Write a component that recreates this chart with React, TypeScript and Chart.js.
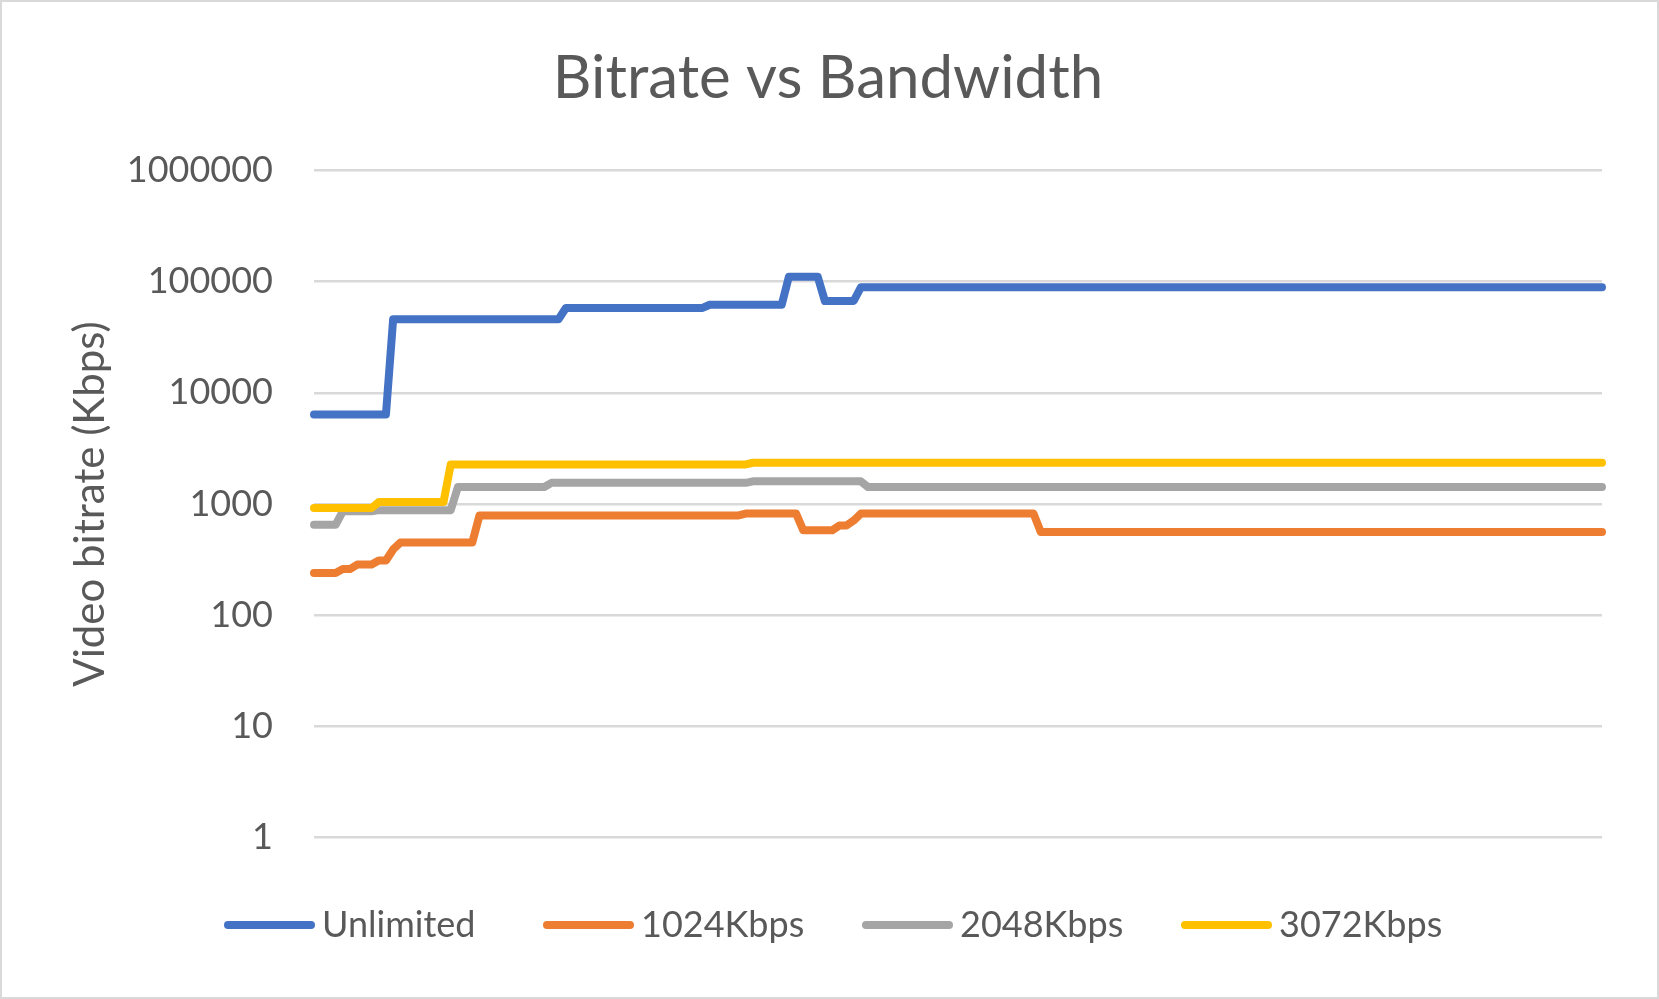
import React, { useEffect, useRef } from "react";
import { Chart, registerables } from "chart.js";

Chart.register(...registerables);

const chartTitle = "Bitrate vs Bandwidth";
const axisTitle = "Video bitrate (Kbps)";
const seriesNames = ["Unlimited", "1024Kbps", "2048Kbps", "3072Kbps"];
const seriesColors = ["#4472C4", "#ED7D31", "#A5A5A5", "#FFC000"];
const yTicks = [1, 10, 100, 1000, 10000, 100000, 1000000];

const unlimited = [
  6400, 6400, 6400, 6400, 6400, 6400, 6400, 6400, 6400, 6400, 6400, 46000, 46000, 46000, 46000, 46000, 46000, 46000, 46000, 46000,
  46000, 46000, 46000, 46000, 46000, 46000, 46000, 46000, 46000, 46000, 46000, 46000, 46000, 46000, 46000, 58000, 58000, 58000, 58000, 58000,
  58000, 58000, 58000, 58000, 58000, 58000, 58000, 58000, 58000, 58000, 58000, 58000, 58000, 58000, 58000, 62000, 62000, 62000, 62000, 62000,
  62000, 62000, 62000, 62000, 62000, 62000, 111000, 111000, 111000, 111000, 111000, 67000, 67000, 67000, 67000, 67000, 89000, 89000, 89000, 89000,
  89000, 89000, 89000, 89000, 89000, 89000, 89000, 89000, 89000, 89000, 89000, 89000, 89000, 89000, 89000, 89000, 89000, 89000, 89000, 89000,
  89000, 89000, 89000, 89000, 89000, 89000, 89000, 89000, 89000, 89000, 89000, 89000, 89000, 89000, 89000, 89000, 89000, 89000, 89000, 89000,
  89000, 89000, 89000, 89000, 89000, 89000, 89000, 89000, 89000, 89000, 89000, 89000, 89000, 89000, 89000, 89000, 89000, 89000, 89000, 89000,
  89000, 89000, 89000, 89000, 89000, 89000, 89000, 89000, 89000, 89000, 89000, 89000, 89000, 89000, 89000, 89000, 89000, 89000, 89000, 89000,
  89000, 89000, 89000, 89000, 89000, 89000, 89000, 89000, 89000, 89000, 89000, 89000, 89000, 89000, 89000, 89000, 89000, 89000, 89000, 89000,
];

const kbps1024 = [
  240, 240, 240, 240, 260, 260, 285, 285, 285, 310, 310, 390, 450, 450, 450, 450, 450, 450, 450, 450,
  450, 450, 450, 790, 790, 790, 790, 790, 790, 790, 790, 790, 790, 790, 790, 790, 790, 790, 790, 790,
  790, 790, 790, 790, 790, 790, 790, 790, 790, 790, 790, 790, 790, 790, 790, 790, 790, 790, 790, 790,
  820, 820, 820, 820, 820, 820, 820, 820, 580, 580, 580, 580, 580, 640, 640, 710, 820, 820, 820, 820,
  820, 820, 820, 820, 820, 820, 820, 820, 820, 820, 820, 820, 820, 820, 820, 820, 820, 820, 820, 820,
  820, 560, 560, 560, 560, 560, 560, 560, 560, 560, 560, 560, 560, 560, 560, 560, 560, 560, 560, 560,
  560, 560, 560, 560, 560, 560, 560, 560, 560, 560, 560, 560, 560, 560, 560, 560, 560, 560, 560, 560,
  560, 560, 560, 560, 560, 560, 560, 560, 560, 560, 560, 560, 560, 560, 560, 560, 560, 560, 560, 560,
  560, 560, 560, 560, 560, 560, 560, 560, 560, 560, 560, 560, 560, 560, 560, 560, 560, 560, 560, 560,
];

const kbps2048 = [
  650, 650, 650, 650, 860, 860, 860, 860, 860, 880, 880, 880, 880, 880, 880, 880, 880, 880, 880, 880,
  1420, 1420, 1420, 1420, 1420, 1420, 1420, 1420, 1420, 1420, 1420, 1420, 1420, 1550, 1550, 1550, 1550, 1550, 1550, 1550,
  1550, 1550, 1550, 1550, 1550, 1550, 1550, 1550, 1550, 1550, 1550, 1550, 1550, 1550, 1550, 1550, 1550, 1550, 1550, 1550,
  1550, 1600, 1600, 1600, 1600, 1600, 1600, 1600, 1600, 1600, 1600, 1600, 1600, 1600, 1600, 1600, 1600, 1420, 1420, 1420,
  1420, 1420, 1420, 1420, 1420, 1420, 1420, 1420, 1420, 1420, 1420, 1420, 1420, 1420, 1420, 1420, 1420, 1420, 1420, 1420,
  1420, 1420, 1420, 1420, 1420, 1420, 1420, 1420, 1420, 1420, 1420, 1420, 1420, 1420, 1420, 1420, 1420, 1420, 1420, 1420,
  1420, 1420, 1420, 1420, 1420, 1420, 1420, 1420, 1420, 1420, 1420, 1420, 1420, 1420, 1420, 1420, 1420, 1420, 1420, 1420,
  1420, 1420, 1420, 1420, 1420, 1420, 1420, 1420, 1420, 1420, 1420, 1420, 1420, 1420, 1420, 1420, 1420, 1420, 1420, 1420,
  1420, 1420, 1420, 1420, 1420, 1420, 1420, 1420, 1420, 1420, 1420, 1420, 1420, 1420, 1420, 1420, 1420, 1420, 1420, 1420,
];

const kbps3072 = [
  920, 920, 920, 920, 920, 920, 920, 920, 920, 1040, 1040, 1040, 1040, 1040, 1040, 1040, 1040, 1040, 1040, 2270,
  2270, 2270, 2270, 2270, 2270, 2270, 2270, 2270, 2270, 2270, 2270, 2270, 2270, 2270, 2270, 2270, 2270, 2270, 2270, 2270,
  2270, 2270, 2270, 2270, 2270, 2270, 2270, 2270, 2270, 2270, 2270, 2270, 2270, 2270, 2270, 2270, 2270, 2270, 2270, 2270,
  2270, 2350, 2350, 2350, 2350, 2350, 2350, 2350, 2350, 2350, 2350, 2350, 2350, 2350, 2350, 2350, 2350, 2350, 2350, 2350,
  2350, 2350, 2350, 2350, 2350, 2350, 2350, 2350, 2350, 2350, 2350, 2350, 2350, 2350, 2350, 2350, 2350, 2350, 2350, 2350,
  2350, 2350, 2350, 2350, 2350, 2350, 2350, 2350, 2350, 2350, 2350, 2350, 2350, 2350, 2350, 2350, 2350, 2350, 2350, 2350,
  2350, 2350, 2350, 2350, 2350, 2350, 2350, 2350, 2350, 2350, 2350, 2350, 2350, 2350, 2350, 2350, 2350, 2350, 2350, 2350,
  2350, 2350, 2350, 2350, 2350, 2350, 2350, 2350, 2350, 2350, 2350, 2350, 2350, 2350, 2350, 2350, 2350, 2350, 2350, 2350,
  2350, 2350, 2350, 2350, 2350, 2350, 2350, 2350, 2350, 2350, 2350, 2350, 2350, 2350, 2350, 2350, 2350, 2350, 2350, 2350,
];

const seriesValues = [unlimited, kbps1024, kbps2048, kbps3072];
const timeLabels = unlimited.map((_, i) => String(i + 1));

const TEXT_COLOR = "#595959";
const FONT = "Lato";

const backgroundPlugin = {
  id: "bgBorder",
  beforeDraw(chart: any) {
    const { ctx, width, height } = chart;
    ctx.save();
    ctx.fillStyle = "#ffffff";
    ctx.fillRect(0, 0, width, height);
    ctx.strokeStyle = "#d9d9d9";
    ctx.lineWidth = 2;
    ctx.strokeRect(1, 1, width - 2, height - 2);
    ctx.restore();
  },
};

const titlePlugin = {
  id: "excelTitle",
  afterDraw(chart: any) {
    const ctx = chart.ctx;
    ctx.save();
    ctx.font = `60px ${FONT}`;
    ctx.fillStyle = TEXT_COLOR;
    ctx.textAlign = "center";
    ctx.textBaseline = "alphabetic";
    ctx.fillText(chartTitle, 828, 98);
    ctx.restore();
  },
};

const legendPlugin = {
  id: "lineLegend",
  afterDraw(chart: any) {
    const ctx = chart.ctx;
    ctx.save();
    ctx.font = `36px ${FONT}`;
    const swatch = 91;
    const gap = 7;
    const pitch = 319;
    const startX = 224;
    const y = 925;
    chart.data.datasets.forEach((ds: any, i: number) => {
      const x = startX + i * pitch;
      ctx.strokeStyle = ds.borderColor;
      ctx.lineWidth = 8;
      ctx.lineCap = "round";
      ctx.beginPath();
      ctx.moveTo(x + 4, y);
      ctx.lineTo(x + swatch - 4, y);
      ctx.stroke();
      ctx.fillStyle = TEXT_COLOR;
      ctx.textBaseline = "middle";
      ctx.textAlign = "left";
      ctx.fillText(ds.label, x + swatch + gap, y);
    });
    ctx.restore();
  },
};

export default function App() {
  const canvasRef = useRef<HTMLCanvasElement | null>(null);

  useEffect(() => {
    if (!canvasRef.current) return;
    const drawOrder = [3, 2, 1, 0];
    const chart = new Chart(canvasRef.current, {
      type: "line",
      data: {
        labels: timeLabels,
        datasets: seriesNames.map((name, i) => ({
          label: name,
          data: seriesValues[i],
          borderColor: seriesColors[i],
          backgroundColor: seriesColors[i],
          borderWidth: 8,
          pointRadius: 0,
          tension: 0,
          fill: false,
          borderCapStyle: "round",
          borderJoinStyle: "round",
          order: drawOrder[i],
        })),
      },
      options: {
        animation: false,
        responsive: false,
        layout: { padding: { left: 0, right: 57, top: 170.5, bottom: 161.5 } },
        plugins: {
          legend: { display: false },
          tooltip: { enabled: false },
          title: { display: false },
        },
        scales: {
          x: { display: false, offset: false },
          y: {
            type: "logarithmic",
            min: 1,
            max: 1000000,
            afterBuildTicks: (s: any) => {
              s.ticks = yTicks.map((v) => ({ value: v }));
            },
            afterFit: (s: any) => {
              s.width = 314;
            },
            ticks: {
              color: TEXT_COLOR,
              font: { family: FONT, size: 36 },
              padding: 41,
              callback: (v: any) => String(v),
            },
            grid: { color: "#d9d9d9", lineWidth: 2.5, drawTicks: false },
            border: { display: false },
            title: {
              display: true,
              text: axisTitle,
              color: TEXT_COLOR,
              font: { family: FONT, size: 42 },
              padding: { top: 65, bottom: 0 },
            },
          },
        },
      } as any,
      plugins: [backgroundPlugin, titlePlugin, legendPlugin],
    });
    return () => chart.destroy();
  }, []);

  return (
    <div style={{ position: "absolute", left: 0, top: 0, width: 1659, height: 999 }}>
      <canvas ref={canvasRef} width={1659} height={999} style={{ display: "block" }} />
    </div>
  );
}
